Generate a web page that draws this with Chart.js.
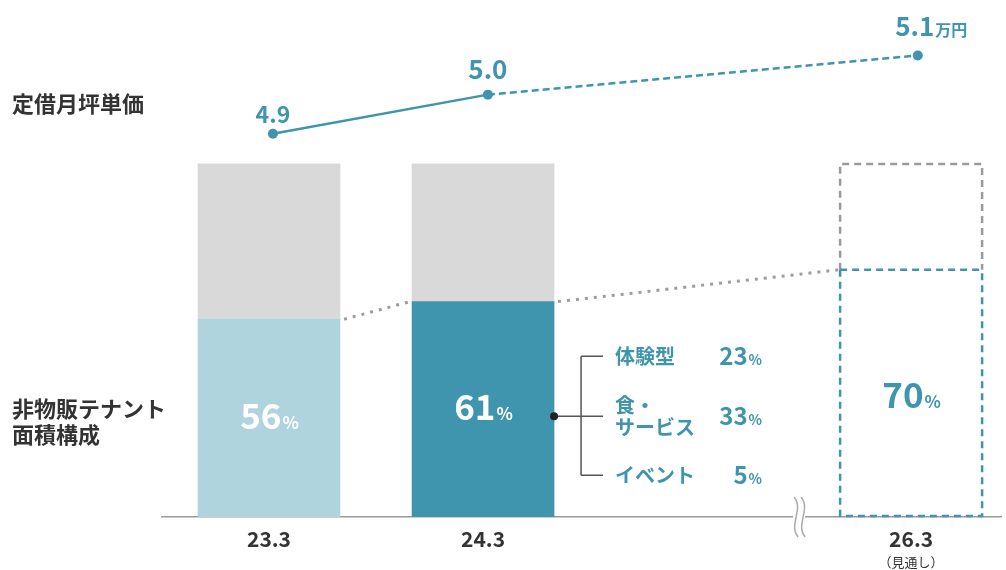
<!DOCTYPE html>
<html>
<head>
<meta charset="utf-8">
<script src="https://cdn.jsdelivr.net/npm/chart.js@4.4.1/dist/chart.umd.min.js"></script>
<style>
  html, body { margin: 0; padding: 0; background: #fff; }
  #wrap { width: 1006px; height: 570px; position: relative; }
</style>
</head>
<body>
<div id="wrap"><canvas id="chart"></canvas></div>
<script>
// --- data ---
const periods = ['23.3', '24.3', '26.3'];
const periodPos = [0, 1, 3];          // 25.3 is skipped (axis break)
const forecast = [false, false, true];
const nonRetailShare = [56, 61, 70];  // 非物販テナント面積構成 (%)
const otherShare = [44, 39, 30];
const rentPerTsubo = [4.9, 5.0, 5.1]; // 定借月坪単価 (万円)
const breakdownLabels = [['体験型'], ['食・', 'サービス'], ['イベント']];
const breakdownValues = [23, 33, 5];

const TEAL = '#3f95ad';
const LIGHT = '#afd4de';
const GREY = '#d9d9d9';
const TEXT = '#333333';
const FONT = "'Noto Sans CJK JP', 'Noto Sans', sans-serif";
// rent label look: font size and gap above the point
const rentLabelSize = [23, 26, 26];
const rentLabelGap = [11, 16, 19];

Chart.defaults.font.family = FONT;

// text with a smaller unit suffix, centred on the number part or whole
function numberWithUnit(ctx, num, unit, x, y, bigSize, smallSize, color, centerOnNumber) {
    ctx.save();
    ctx.fillStyle = color;
    ctx.textBaseline = 'alphabetic';
    ctx.font = `bold ${bigSize}px ${FONT}`;
    const w1 = ctx.measureText(num).width;
    ctx.font = `bold ${smallSize}px ${FONT}`;
    const w2 = ctx.measureText(unit).width;
    const start = centerOnNumber ? x - w1 / 2 : x - (w1 + w2) / 2;
    ctx.textAlign = 'left';
    ctx.font = `bold ${bigSize}px ${FONT}`;
    ctx.fillText(num, start, y);
    ctx.font = `bold ${smallSize}px ${FONT}`;
    ctx.fillText(unit, start + w1 + 1, y);
    ctx.restore();
}

const decorations = {
    id: 'decorations',
    afterDatasetsDraw(chart) {
        const ctx = chart.ctx;
        const low = chart.getDatasetMeta(0).data;
        const high = chart.getDatasetMeta(1).data;
        const pts = chart.getDatasetMeta(2).data;
        const xs = chart.scales.x;
        const bottom = chart.chartArea.bottom;

        // dashed outline for forecast bar
        forecast.forEach((f, i) => {
            if (!f) return;
            const b = low[i], t = high[i];
            const l = b.x - b.width / 2, r = b.x + b.width / 2;
            ctx.save();
            ctx.lineWidth = 2.5;
            ctx.setLineDash([7, 5]);
            ctx.strokeStyle = '#9a9a9a';
            ctx.beginPath();
            ctx.moveTo(l, t.base); ctx.lineTo(l, t.y); ctx.lineTo(r, t.y); ctx.lineTo(r, t.base);
            ctx.stroke();
            ctx.strokeStyle = TEAL;
            ctx.beginPath();
            ctx.moveTo(l, b.y); ctx.lineTo(r, b.y);
            ctx.moveTo(l, b.y); ctx.lineTo(l, bottom - 1); ctx.lineTo(r, bottom - 1); ctx.lineTo(r, b.y);
            ctx.stroke();
            ctx.restore();
        });

        // dotted connectors between share tops
        ctx.save();
        ctx.strokeStyle = '#9d9d9d';
        ctx.lineWidth = 3;
        ctx.setLineDash([3, 6]);
        for (let i = 0; i < low.length - 1; i++) {
            const a = low[i], b = low[i + 1];
            ctx.beginPath();
            ctx.moveTo(a.x + a.width / 2 + 4, a.y);
            ctx.lineTo(b.x - b.width / 2 - 2, b.y);
            ctx.stroke();
        }
        ctx.restore();

        // share labels in bars
        low.forEach((b, i) => {
            const cy = (b.y + b.base) / 2 + (forecast[i] ? 15 : 11);
            numberWithUnit(ctx, String(nonRetailShare[i]), '%', b.x, cy, 35, 17,
                forecast[i] ? TEAL : '#ffffff', false);
        });

        // rent labels above points
        pts.forEach((p, i) => {
            const last = i === pts.length - 1;
            numberWithUnit(ctx, rentPerTsubo[i].toFixed(1), last ? '万円' : '', p.x - (last ? 3 : 0),
                p.y - rentLabelGap[i], rentLabelSize[i], 16, TEAL, true);
        });

        // breakdown bracket for 24.3
        const b2 = low[1];
        const ex = b2.x + b2.width / 2;
        const my = (b2.y + b2.base) / 2 + 7;
        const bx = ex + 27;
        const rows = [my - 60, my, my + 59];
        ctx.save();
        ctx.strokeStyle = '#555';
        ctx.lineWidth = 1.5;
        ctx.beginPath();
        ctx.moveTo(ex, my); ctx.lineTo(bx + 22, my);
        ctx.moveTo(bx, rows[0]); ctx.lineTo(bx, rows[2]);
        ctx.moveTo(bx, rows[0]); ctx.lineTo(bx + 22, rows[0]);
        ctx.moveTo(bx, rows[2]); ctx.lineTo(bx + 22, rows[2]);
        ctx.stroke();
        ctx.fillStyle = '#222';
        ctx.beginPath(); ctx.arc(ex, my, 4, 0, Math.PI * 2); ctx.fill();
        ctx.fillStyle = TEAL;
        ctx.textBaseline = 'middle';
        breakdownLabels.forEach((lines, i) => {
            ctx.textAlign = 'left';
            ctx.font = `bold 20px ${FONT}`;
            const y0 = rows[i] - (lines.length - 1) * 11;
            lines.forEach((s, k) => ctx.fillText(s, bx + 34, y0 + k * 22));
            const num = String(breakdownValues[i]);
            ctx.font = `bold 14px ${FONT}`;
            const pw = ctx.measureText('%').width;
            ctx.textAlign = 'right';
            ctx.fillText('%', bx + 181, rows[i] + 3);
            ctx.font = `bold 24px ${FONT}`;
            ctx.fillText(num, bx + 181 - pw - 1, rows[i]);
        });
        ctx.restore();

        // axis break mark
        const b3 = low[2];
        const kx = b3.x - b3.width / 2 - 44;
        ctx.save();
        ctx.fillStyle = '#fff';
        ctx.fillRect(kx - 3, bottom - 4, 12, 8);
        ctx.strokeStyle = '#aaa';
        ctx.lineWidth = 1.5;
        [0, 7].forEach(d => {
            ctx.beginPath();
            ctx.moveTo(kx + d - 2, bottom - 20);
            ctx.bezierCurveTo(kx + d + 8, bottom - 8, kx + d - 8, bottom + 8, kx + d + 2, bottom + 20);
            ctx.stroke();
        });
        ctx.restore();

        // side titles and forecast note
        ctx.save();
        ctx.fillStyle = TEXT;
        ctx.font = `bold 22px ${FONT}`;
        ctx.textAlign = 'left';
        ctx.textBaseline = 'middle';
        ctx.fillText('定借月坪単価', 12, 104);
        ctx.fillText('非物販テナント', 12, 409);
        ctx.fillText('面積構成', 12, 435);
        ctx.textAlign = 'center';
        ctx.font = `13px ${FONT}`;
        forecast.forEach((f, i) => {
            if (f) ctx.fillText('（見通し）', xs.getPixelForValue(periodPos[i]), 562);
        });
        ctx.restore();
    }
};

new Chart(document.getElementById('chart'), {
    data: {
        datasets: [
            {
                type: 'bar',
                order: 1,
                grouped: false,
                data: periodPos.map((x, i) => ({ x: x, y: nonRetailShare[i] })),
                backgroundColor: forecast.map((f, i) => f ? 'rgba(0,0,0,0)' : (i === 0 ? LIGHT : TEAL)),
                barThickness: 142,
                xAxisID: 'x',
                yAxisID: 'y'
            },
            {
                type: 'bar',
                order: 2,
                grouped: false,
                data: periodPos.map((x, i) => ({ x: x, y: otherShare[i] })),
                backgroundColor: forecast.map(f => f ? 'rgba(0,0,0,0)' : GREY),
                barThickness: 142,
                xAxisID: 'x',
                yAxisID: 'y'
            },
            {
                type: 'line',
                order: 0,
                data: periodPos.map((x, i) => ({ x: x, y: rentPerTsubo[i] })),
                borderColor: TEAL,
                backgroundColor: TEAL,
                borderWidth: 2.5,
                pointRadius: 5,
                pointBorderWidth: 0,
                segment: {
                    borderDash: c => c.p0DataIndex >= 1 ? [7, 4] : undefined
                },
                xAxisID: 'x2',
                yAxisID: 'y1'
            }
        ]
    },
    options: {
        responsive: true,
        maintainAspectRatio: false,
        animation: false,
        layout: { padding: { left: 162, right: 1, top: 0, bottom: 0 } },
        plugins: { legend: { display: false }, tooltip: { enabled: false } },
        scales: {
            x: {
                type: 'linear',
                stacked: true,
                offset: false,
                min: -0.5,
                max: 3.42,
                afterBuildTicks: s => { s.ticks = periodPos.map(v => ({ value: v })); },
                afterFit: s => { s.height = 53; },
                ticks: {
                    callback: v => periods[periodPos.indexOf(v)],
                    color: TEXT,
                    font: { size: 21, weight: 'bold' },
                    padding: 9,
                    maxRotation: 0,
                    autoSkip: false
                },
                grid: { drawOnChartArea: false, drawTicks: false },
                border: { display: true, color: '#999999', width: 1.5 }
            },
            x2: {
                type: 'linear',
                display: false,
                offset: false,
                min: -0.516,
                max: 3.387
            },
            y: {
                display: false,
                stacked: true,
                min: 0,
                max: 145
            },
            y1: {
                display: false,
                min: 3.921,
                max: 5.229
            }
        }
    },
    plugins: [decorations]
});
</script>
</body>
</html>
